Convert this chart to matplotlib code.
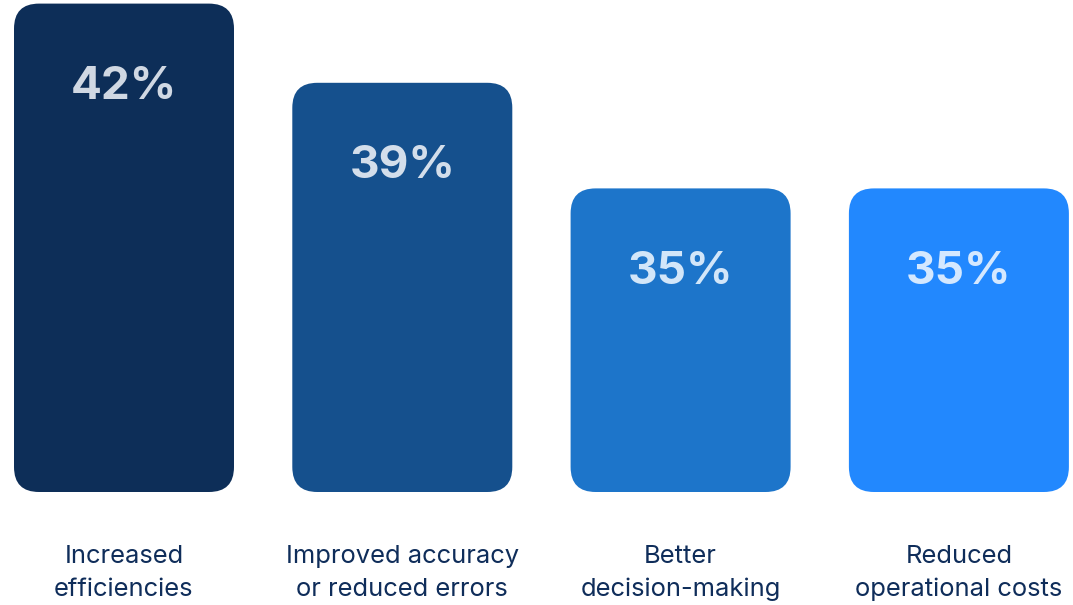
import numpy as np
import matplotlib.pyplot as plt
from matplotlib.patches import FancyBboxPatch

# 数据
categories = ["Increased\nefficiencies", "Improved accuracy\nor reduced errors",
              "Better\ndecision-making", "Reduced\noperational costs"]
values = [42, 39, 35, 35]
bar_colors = ["#0D2E58", "#15508D", "#1D75CA", "#2288FE"]
label_colors = ["#D0D8E3", "#D3DEEB", "#D2E6F9", "#D4E8FF"]

plt.rcParams["font.family"] = ["Inter", "DejaVu Sans"]

W, H, DPI = 1073, 605, 100
fig = plt.figure(figsize=(W / DPI, H / DPI), dpi=DPI)
ax = fig.add_axes([0, 0, 1, 1])

# 坐标范围（柱底从 base 开始）
base = 23.5
px_per_x = 278.3
px_per_y = 26.4
x0 = -124 / px_per_x
ax.set_xlim(x0, x0 + W / px_per_x)
ax.set_ylim(base - (H - 492) / px_per_y, base + 492 / px_per_y)
ax.axis("off")

bar_w = 220 / px_per_x
radius = 25 / px_per_x
aspect = px_per_x / px_per_y

for i, (v, c) in enumerate(zip(values, bar_colors)):
    box = FancyBboxPatch((i - bar_w / 2, base), bar_w, v - base,
                         boxstyle=f"round,pad=0,rounding_size={radius}",
                         mutation_aspect=aspect, facecolor=c, edgecolor="none")
    ax.add_patch(box)
    ax.annotate(f"{v}%", (i, v), xytext=(0, -60), textcoords="offset points",
                ha="center", va="center", fontsize=33, fontweight="bold",
                color=label_colors[i])
    ax.annotate(categories[i], (i, base), xytext=(0, -38), textcoords="offset points",
                ha="center", va="top", fontsize=18.4, color="#0F2D5A",
                linespacing=1.55)

fig.savefig("out.png", dpi=DPI)
plt.close()
